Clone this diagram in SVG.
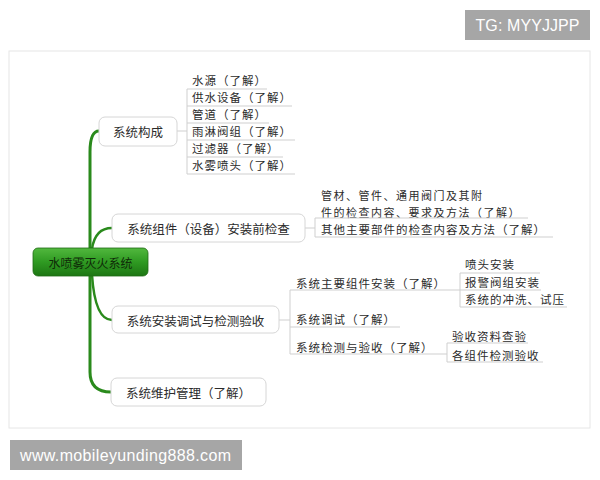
<svg xmlns="http://www.w3.org/2000/svg" width="600" height="480" viewBox="0 0 600 480">
<defs>
<linearGradient id="rootGrad" x1="0" y1="0" x2="0" y2="1">
<stop offset="0" stop-color="#52b83e"/>
<stop offset="0.5" stop-color="#2f9a22"/>
<stop offset="1" stop-color="#1d7613"/>
</linearGradient>
<style>
.t{font-family:"Noto Sans CJK SC","Noto Sans",sans-serif;font-size:12.5px;fill:#2b2b2b;dominant-baseline:central}
.s{font-family:"Noto Sans CJK SC","Noto Sans",sans-serif;font-size:11.5px;letter-spacing:1px;fill:#2b2b2b;dominant-baseline:central}
.node{fill:#ffffff;stroke:#d6d6d6;stroke-width:1}
.ul{stroke:#cfcfcf;stroke-width:1;fill:none}
.trunk{stroke:#2a8a1c;fill:none;stroke-linecap:round}
.wm{fill:#a6a6a6}
.wmt{font-family:"Liberation Sans",Arial,sans-serif;font-size:16px;fill:#ffffff;dominant-baseline:central}
</style>
</defs>
<rect width="600" height="480" fill="#ffffff"/>
<rect x="9" y="51" width="581" height="377" fill="#ffffff" stroke="#e6e6e6" stroke-width="1"/>

<g id="connectors">
<path class="trunk" stroke-width="3" d="M90 250 L90 152 Q90 131 99 131"/>
<path class="trunk" stroke-width="2.5" d="M92 249 Q95 228 112 228"/>
<path class="trunk" stroke-width="2.5" d="M92 275 Q95 320 112 320"/>
<path class="trunk" stroke-width="3" d="M90 275 L90 372 Q90 392 111 392"/>
<path class="ul" d="M177 131 H187 M187 89 V174"/>
<path class="ul" d="M305 228 H315 M315 218 V237"/>
<path class="ul" d="M279 320 H290 M290 290 V354"/>
<path class="ul" d="M460 273 V307"/>
<path class="ul" d="M447 343 V362"/>
</g>

<g id="root">
<rect x="33" y="248" width="115" height="28" rx="5" fill="url(#rootGrad)" stroke="#1f6b14" stroke-width="0.8"/>
<text class="t" x="90.5" y="262" text-anchor="middle" style="font-size:12px;fill:#0f2a08">水喷雾灭火系统</text>
</g>

<g id="n1">
<rect class="node" x="99" y="117" width="78" height="29" rx="6"/>
<text class="t" x="138" y="131.5" text-anchor="middle">系统构成</text>
</g>
<g id="n1a"><text class="s" x="192" y="80">水源（了解）</text><path class="ul" d="M187 89 H267"/></g>
<g id="n1b"><text class="s" x="192" y="97">供水设备（了解）</text><path class="ul" d="M187 106 H292"/></g>
<g id="n1c"><text class="s" x="192" y="114">管道（了解）</text><path class="ul" d="M187 123 H269"/></g>
<g id="n1d"><text class="s" x="192" y="131">雨淋阀组（了解）</text><path class="ul" d="M187 140 H295"/></g>
<g id="n1e"><text class="s" x="192" y="148">过滤器（了解）</text><path class="ul" d="M187 157 H283"/></g>
<g id="n1f"><text class="s" x="192" y="165">水雾喷头（了解）</text><path class="ul" d="M187 174 H295"/></g>

<g id="n2">
<rect class="node" x="112" y="214" width="193" height="28" rx="6"/>
<text class="t" x="208.5" y="228" text-anchor="middle">系统组件（设备）安装前检查</text>
</g>
<g id="n2a"><text class="s" style="font-size:11px;letter-spacing:1.5px"><tspan x="321" y="195">管材、管件、通用阀门及其附</tspan><tspan x="321" y="211.5">件的检查内容、要求及方法（了解）</tspan></text><path class="ul" d="M315 218 H528"/></g>
<g id="n2b"><text class="s" x="321" y="229">其他主要部件的检查内容及方法（了解）</text><path class="ul" d="M315 237 H553"/></g>

<g id="n3">
<rect class="node" x="112" y="306" width="167" height="27" rx="6"/>
<text class="t" x="195.5" y="320" text-anchor="middle">系统安装调试与检测验收</text>
</g>
<g id="n3a"><text class="s" x="296" y="282.5">系统主要组件安装（了解）</text><path class="ul" d="M290 290 H460"/></g>
<g id="n3a1"><text class="s" x="465" y="264">喷头安装</text><path class="ul" d="M460 273 H540"/></g>
<g id="n3a2"><text class="s" x="465" y="282">报警阀组安装</text><path class="ul" d="M460 290 H541"/></g>
<g id="n3a3"><text class="s" x="465" y="299">系统的冲洗、试压</text><path class="ul" d="M460 307 H567"/></g>
<g id="n3b"><text class="s" x="296" y="318.5">系统调试（了解）</text><path class="ul" d="M290 327 H400"/></g>
<g id="n3c"><text class="s" x="296" y="346.5">系统检测与验收（了解）</text><path class="ul" d="M290 354 H447"/></g>
<g id="n3c1"><text class="s" x="452" y="336">验收资料查验</text><path class="ul" d="M447 343 H528"/></g>
<g id="n3c2"><text class="s" x="452" y="355">各组件检测验收</text><path class="ul" d="M447 362 H543"/></g>

<g id="n4">
<rect class="node" x="111" y="378" width="155" height="28" rx="6"/>
<text class="t" x="188.5" y="392" text-anchor="middle">系统维护管理（了解）</text>
</g>

<g id="wm1">
<rect class="wm" x="465" y="10" width="125" height="30"/>
<text class="wmt" x="527.5" y="25.5" text-anchor="middle" textLength="104">TG: MYYJJPP</text>
</g>
<g id="wm2">
<rect class="wm" x="10" y="440" width="232" height="30"/>
<text class="wmt" x="20" y="455.5" textLength="211">www.mobileyunding888.com</text>
</g>
</svg>
